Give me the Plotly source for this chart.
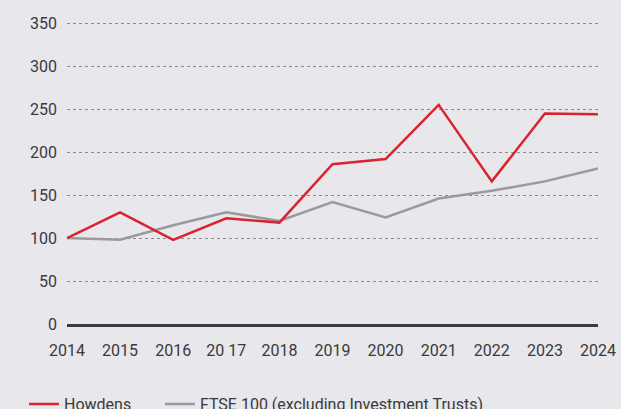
import plotly.graph_objects as go

years = [2014, 2015, 2016, 2017, 2018, 2019, 2020, 2021, 2022, 2023, 2024]
year_labels = ["2014", "2015", "2016", "20 17", "2018", "2019", "2020", "2021", "2022", "2023", "2024"]
howdens = [100, 130, 98, 123, 118, 186, 192, 255, 166, 245, 244]
ftse = [100, 98, 115, 130, 120, 142, 124, 146, 155, 166, 181]
y_ticks = [0, 50, 100, 150, 200, 250, 300, 350]

bg = "#e8e7ec"
txt = "#3a3a3a"

fig = go.Figure()
fig.add_trace(go.Scatter(x=years, y=ftse, mode="lines", name="FTSE 100 (excluding Investment Trusts)",
                         line=dict(color="#9a999c", width=2.5), legend="legend2"))
fig.add_trace(go.Scatter(x=years, y=howdens, mode="lines", name="Howdens",
                         line=dict(color="#d9232e", width=2.5), legend="legend"))

leg_common = dict(orientation="h", xanchor="left", yref="container", y=0.012, yanchor="middle",
                  bgcolor="rgba(0,0,0,0)", font=dict(size=16, color=txt))

fig.update_layout(
    width=621, height=409,
    paper_bgcolor=bg, plot_bgcolor=bg,
    margin=dict(l=67, r=23, t=22, b=85),
    font=dict(family="Roboto, Inter, sans-serif", size=16, color=txt),
    xaxis=dict(range=[2014, 2024], tickvals=years, ticktext=year_labels,
               showgrid=False, zeroline=False, showline=True, linewidth=3,
               linecolor="#3c3c3c", ticks="", ticklabelstandoff=10, automargin=False),
    yaxis=dict(range=[0, 351.5], tickvals=y_ticks, showgrid=True, griddash="dot",
               gridcolor="#8a8a8a", gridwidth=1, zeroline=False, ticks="",
               ticklabelstandoff=9, automargin=False),
    legend=dict(x=-0.081, **leg_common),
    legend2=dict(x=0.175, **leg_common),
    showlegend=True,
)

fig.write_html("out.html", config={"displayModeBar": False},
               post_script="document.body.style.margin='0';")
